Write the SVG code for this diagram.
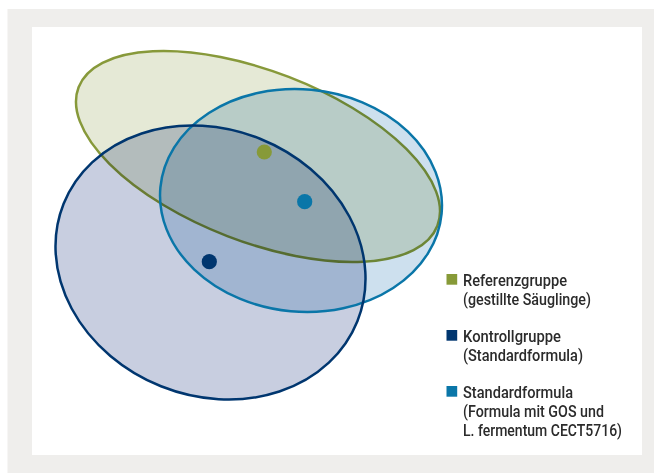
<svg xmlns="http://www.w3.org/2000/svg" width="654" height="473" viewBox="0 0 654 473">
<style>
.fill{mix-blend-mode:multiply}
.lg{font-family:Roboto,"Liberation Sans",Arial,sans-serif;font-size:16.5px;font-weight:500;fill:#2b2b2b}
</style>
<rect x="0" y="0" width="654" height="473" fill="#ffffff"/>
<rect x="7.5" y="9" width="646.5" height="464" fill="#efeeec"/>
<rect x="32" y="27" width="610" height="428" fill="#ffffff"/>
<g id="venn">
<g id="referenz">
<ellipse class="fill" cx="258" cy="156.5" rx="192.3" ry="85.3" transform="rotate(21.1 258 156.5)" fill="#e5e9d6" stroke="#87993a" stroke-width="2.5"/>
</g>
<g id="standard">
<ellipse class="fill" cx="301" cy="200.5" rx="141.2" ry="111.2" transform="rotate(5.3 301 200.5)" fill="#cde0ee"/>
</g>
<g id="kontroll">
<ellipse class="fill" cx="210.5" cy="262.5" rx="158.2" ry="133.3" transform="rotate(21.8 210.5 262.5)" fill="#c8cee0"/>
</g>
<ellipse cx="301" cy="200.5" rx="141.2" ry="111.2" transform="rotate(5.3 301 200.5)" fill="none" stroke="#0a76a8" stroke-width="2.5"/>
<ellipse cx="210.5" cy="262.5" rx="158.2" ry="133.3" transform="rotate(21.8 210.5 262.5)" fill="none" stroke="#00366f" stroke-width="2.5"/>
<circle id="dot-referenz" cx="264.3" cy="152" r="7.6" fill="#879a38"/>
<circle id="dot-standard" cx="304.7" cy="201.7" r="7.6" fill="#0a76a8"/>
<circle id="dot-kontroll" cx="209.3" cy="261.7" r="7.6" fill="#00366f"/>
</g>
<g id="legend">
<g id="leg-referenz">
<rect x="446.5" y="274" width="10.7" height="10.7" fill="#879a38"/>
<text class="lg" x="463" y="286" textLength="104" lengthAdjust="spacingAndGlyphs">Referenzgruppe</text>
<text class="lg" x="463" y="305" textLength="128" lengthAdjust="spacingAndGlyphs">(gestillte Säuglinge)</text>
</g>
<g id="leg-kontroll">
<rect x="446.5" y="330" width="10.7" height="10.7" fill="#00366f"/>
<text class="lg" x="463" y="342" textLength="98" lengthAdjust="spacingAndGlyphs">Kontrollgruppe</text>
<text class="lg" x="463" y="361" textLength="120" lengthAdjust="spacingAndGlyphs">(Standardformula)</text>
</g>
<g id="leg-standard">
<rect x="446.5" y="386" width="10.7" height="10.7" fill="#0a76a8"/>
<text class="lg" x="463" y="398" textLength="110" lengthAdjust="spacingAndGlyphs">Standardformula</text>
<text class="lg" x="463" y="417" textLength="141" lengthAdjust="spacingAndGlyphs">(Formula mit GOS und</text>
<text class="lg" x="463" y="436" textLength="159" lengthAdjust="spacingAndGlyphs">L. fermentum CECT5716)</text>
</g>
</g>
</svg>
